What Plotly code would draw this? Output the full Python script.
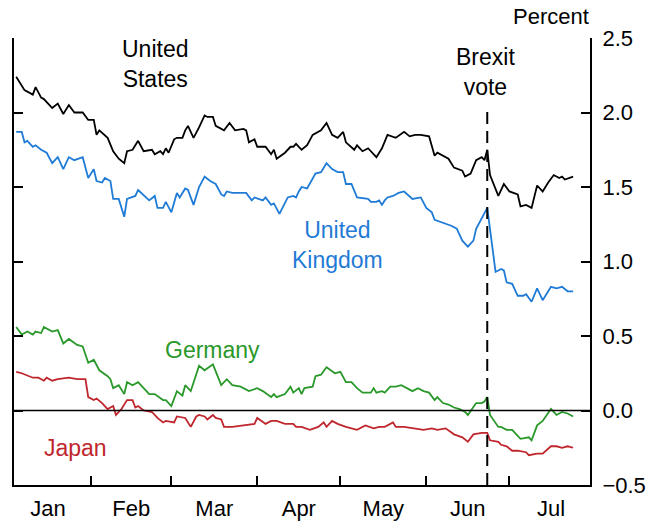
import numpy as np
import pandas as pd
import plotly.graph_objects as go

# Day-of-year (2016) positions and yields (percent)
us_day = [5, 8, 11, 12, 14, 15, 18, 20, 22, 24, 26, 29, 31, 33, 34, 35, 38, 40, 42, 44, 45, 47, 49, 51,
          54, 55, 57, 58, 59, 60, 62, 63, 65, 66, 67, 69, 71, 73, 74, 76, 77, 80, 82, 84, 87, 88, 89, 91,
          92, 95, 97, 98, 99, 101, 102, 104, 105, 106, 108, 110, 112, 115, 117, 119, 121, 123, 124, 127,
          128, 130, 132, 133, 135, 137, 139, 142, 145, 147, 149, 151, 154, 156, 157, 161, 163, 166, 167,
          169, 171, 173, 174, 175, 176, 179, 181, 183, 186, 187, 189, 191, 193, 195, 197, 199, 201, 202,
          203, 206]
us_val = [2.24, 2.15, 2.12, 2.17, 2.10, 2.09, 2.03, 2.06, 1.99, 2.05, 2.00, 2.00, 1.95, 1.95, 1.85, 1.88,
          1.83, 1.74, 1.69, 1.66, 1.74, 1.75, 1.81, 1.74, 1.75, 1.72, 1.74, 1.72, 1.76, 1.73, 1.82, 1.83,
          1.83, 1.88, 1.91, 1.83, 1.90, 1.98, 1.97, 1.97, 1.91, 1.88, 1.93, 1.88, 1.89, 1.88, 1.80, 1.82,
          1.77, 1.77, 1.72, 1.75, 1.69, 1.72, 1.73, 1.77, 1.77, 1.79, 1.75, 1.78, 1.85, 1.88, 1.93, 1.85,
          1.83, 1.87, 1.80, 1.75, 1.78, 1.74, 1.76, 1.74, 1.70, 1.76, 1.85, 1.83, 1.87, 1.84, 1.85, 1.85,
          1.84, 1.71, 1.73, 1.69, 1.63, 1.61, 1.57, 1.59, 1.68, 1.70, 1.68, 1.75, 1.58, 1.44, 1.52, 1.47,
          1.45, 1.37, 1.38, 1.36, 1.51, 1.47, 1.53, 1.58, 1.56, 1.57, 1.55, 1.57]

uk_day = [5, 7, 8, 9, 11, 12, 14, 16, 18, 20, 22, 24, 26, 29, 31, 33, 34, 36, 37, 39, 40, 42, 44, 45,
          48, 49, 53, 55, 56, 58, 59, 61, 63, 64, 66, 67, 69, 71, 73, 75, 77, 79, 80, 81, 83, 88, 90, 91,
          94, 95, 97, 98, 100, 101, 103, 105, 106, 107, 108, 110, 113, 115, 117, 119, 121, 123, 124, 126,
          128, 132, 133, 135, 136, 137, 138, 139, 141, 143, 145, 148, 150, 151, 153, 155, 156, 159, 162,
          164, 166, 168, 170, 171, 173, 175, 178, 180, 181, 182, 184, 186, 188, 189, 191, 193, 195, 198,
          200, 202, 204, 206]
uk_val = [1.87, 1.87, 1.80, 1.81, 1.77, 1.78, 1.75, 1.73, 1.66, 1.70, 1.62, 1.70, 1.68, 1.70, 1.56, 1.62,
          1.54, 1.53, 1.56, 1.54, 1.42, 1.42, 1.30, 1.42, 1.44, 1.48, 1.41, 1.44, 1.36, 1.36, 1.40, 1.33,
          1.46, 1.43, 1.49, 1.48, 1.38, 1.50, 1.57, 1.54, 1.52, 1.45, 1.44, 1.47, 1.46, 1.46, 1.41, 1.43,
          1.41, 1.43, 1.38, 1.39, 1.32, 1.36, 1.43, 1.44, 1.43, 1.47, 1.50, 1.49, 1.59, 1.60, 1.66, 1.62,
          1.60, 1.60, 1.52, 1.52, 1.43, 1.42, 1.40, 1.40, 1.41, 1.38, 1.41, 1.43, 1.44, 1.46, 1.47, 1.42,
          1.43, 1.43, 1.36, 1.33, 1.28, 1.26, 1.24, 1.22, 1.14, 1.10, 1.14, 1.22, 1.29, 1.36, 0.93, 0.95,
          0.94, 0.86, 0.85, 0.77, 0.77, 0.78, 0.73, 0.82, 0.74, 0.83, 0.82, 0.83, 0.80, 0.80]

de_day = [5, 7, 9, 11, 12, 14, 15, 18, 20, 22, 24, 27, 29, 31, 33, 35, 38, 39, 40, 42, 44, 45, 47, 49,
          51, 53, 55, 58, 59, 61, 63, 65, 66, 68, 71, 73, 76, 79, 81, 83, 86, 89, 92, 94, 97, 98, 99, 102,
          104, 105, 107, 108, 109, 112, 113, 115, 117, 120, 122, 124, 126, 128, 130, 133, 134, 135, 137,
          138, 140, 142, 144, 146, 148, 150, 152, 154, 156, 157, 159, 161, 163, 165, 167, 168, 171, 173,
          174, 175, 176, 179, 180, 182, 184, 187, 189, 190, 191, 193, 195, 198, 200, 202, 204, 206]
de_val = [0.56, 0.51, 0.53, 0.51, 0.53, 0.52, 0.56, 0.53, 0.54, 0.45, 0.48, 0.44, 0.43, 0.32, 0.34, 0.27,
          0.23, 0.21, 0.15, 0.17, 0.11, 0.19, 0.17, 0.19, 0.15, 0.11, 0.11, 0.07, 0.07, 0.03, 0.13, 0.10,
          0.17, 0.13, 0.30, 0.27, 0.31, 0.17, 0.21, 0.17, 0.16, 0.13, 0.15, 0.13, 0.09, 0.11, 0.09, 0.11,
          0.16, 0.12, 0.15, 0.11, 0.15, 0.16, 0.23, 0.24, 0.29, 0.25, 0.26, 0.19, 0.19, 0.15, 0.12, 0.12,
          0.15, 0.12, 0.13, 0.12, 0.16, 0.16, 0.17, 0.15, 0.13, 0.15, 0.13, 0.12, 0.07, 0.09, 0.05, 0.04,
          0.02, 0.01, -0.01, -0.03, 0.05, 0.05, 0.06, 0.09, -0.03, -0.11, -0.11, -0.13, -0.13, -0.19,
          -0.18, -0.18, -0.20, -0.10, -0.07, 0.01, -0.03, -0.01, -0.02, -0.04]

jp_day = [5, 7, 11, 13, 15, 16, 18, 20, 24, 27, 30, 31, 33, 34, 36, 38, 40, 41, 43, 45, 47, 48, 49, 51,
          54, 56, 58, 59, 62, 63, 66, 68, 70, 71, 73, 74, 76, 77, 79, 80, 83, 88, 91, 92, 95, 97, 99, 102,
          105, 106, 108, 111, 114, 116, 117, 119, 121, 124, 128, 131, 134, 136, 138, 141, 142, 145, 148,
          152, 155, 157, 160, 163, 166, 168, 170, 172, 173, 175, 176, 179, 180, 182, 184, 186, 189, 190,
          193, 195, 198, 200, 202, 204, 206]
jp_val = [0.26, 0.25, 0.22, 0.22, 0.20, 0.22, 0.20, 0.21, 0.22, 0.21, 0.21, 0.09, 0.07, 0.08, 0.05, 0.01,
          0.03, -0.03, 0.01, 0.07, 0.07, 0.02, 0.03, 0.00, -0.01, -0.05, -0.08, -0.07, -0.08, -0.04, -0.05,
          -0.11, -0.04, -0.03, -0.04, -0.06, -0.03, -0.05, -0.06, -0.11, -0.11, -0.10, -0.09, -0.05, -0.09,
          -0.07, -0.07, -0.09, -0.09, -0.11, -0.11, -0.13, -0.11, -0.08, -0.11, -0.07, -0.09, -0.11, -0.13,
          -0.10, -0.12, -0.11, -0.11, -0.08, -0.11, -0.11, -0.12, -0.13, -0.12, -0.13, -0.12, -0.16, -0.18,
          -0.21, -0.16, -0.15, -0.15, -0.15, -0.20, -0.21, -0.23, -0.24, -0.27, -0.27, -0.28, -0.30, -0.29,
          -0.29, -0.24, -0.24, -0.25, -0.24, -0.25]

brexit_date = "2016-06-23"
series_names = ["United States", "United Kingdom", "Germany", "Japan"]
series_colors = ["#000000", "#1f7bd6", "#2a982a", "#c0262d"]
series_days = [us_day, uk_day, de_day, jp_day]
series_vals = [us_val, uk_val, de_val, jp_val]

start = pd.Timestamp("2016-01-01")


def to_dates(days):
    return start + pd.to_timedelta(np.array(days, dtype=float) - 1, unit="D")


FONT = "Liberation Sans, Arial, sans-serif"
fig = go.Figure()

for name, color, d, v in zip(series_names, series_colors, series_days, series_vals):
    fig.add_trace(go.Scatter(x=to_dates(d), y=v, mode="lines", name=name,
                             line=dict(color=color, width=1.8), showlegend=False))

# zero line
fig.add_shape(type="line", xref="paper", yref="y", x0=0, x1=1, y0=0, y1=0,
              line=dict(color="black", width=1.5))
# Brexit vote dashed line
fig.add_shape(type="line", xref="x", yref="y", x0=brexit_date, x1=brexit_date, y0=-0.5, y1=2.03,
              line=dict(color="black", width=2, dash="12px,7px"))

annotations = [
    dict(text="United<br>States", x=0.245, y=0.942, color="#000000"),
    dict(text="Brexit<br>vote", x=0.818, y=0.924, color="#000000"),
    dict(text="United<br>Kingdom", x=0.561, y=0.537, color="#1f7bd6"),
    dict(text="Germany", x=0.344, y=0.302, color="#2a982a"),
    dict(text="Japan", x=0.106, y=0.083, color="#c0262d"),
]
for a in annotations:
    fig.add_annotation(text=a["text"], x=a["x"], y=a["y"], xref="paper", yref="paper",
                       xanchor="center", yanchor="middle", showarrow=False,
                       font=dict(family=FONT, size=23, color=a["color"]))

fig.add_annotation(text="Percent", x=1.002, y=1.047, xref="paper", yref="paper",
                   xanchor="right", yanchor="middle", showarrow=False,
                   font=dict(family=FONT, size=22, color="black"))

fig.update_layout(
    width=660, height=522,
    margin=dict(l=14, r=70, t=38, b=37),
    paper_bgcolor="white", plot_bgcolor="white",
    font=dict(family=FONT, size=22, color="black"),
    xaxis=dict(
        range=["2016-01-04 05:00", "2016-07-30 02:00"],
        showgrid=False, zeroline=False, automargin=False,
        showline=True, linecolor="black", linewidth=2,
        ticks="inside", ticklen=9, tickwidth=2, tickcolor="black",
        tick0="2016-01-01", dtick="M1", tickformat="%b",
        ticklabelmode="period", ticklabelstandoff=3,
    ),
    yaxis=dict(
        range=[-0.5, 2.5], side="right",
        showgrid=False, zeroline=False, automargin=False,
        showline=True, linecolor="black", linewidth=2, mirror="ticks",
        ticks="inside", ticklen=9, tickwidth=2, tickcolor="black",
        tickvals=[-0.5, 0, 0.5, 1.0, 1.5, 2.0, 2.5], tickformat=".1f",
        ticklabelstandoff=6,
    ),
)

fig.write_html("out.html", config={"displayModeBar": False},
               post_script="document.body.style.margin='0';")
